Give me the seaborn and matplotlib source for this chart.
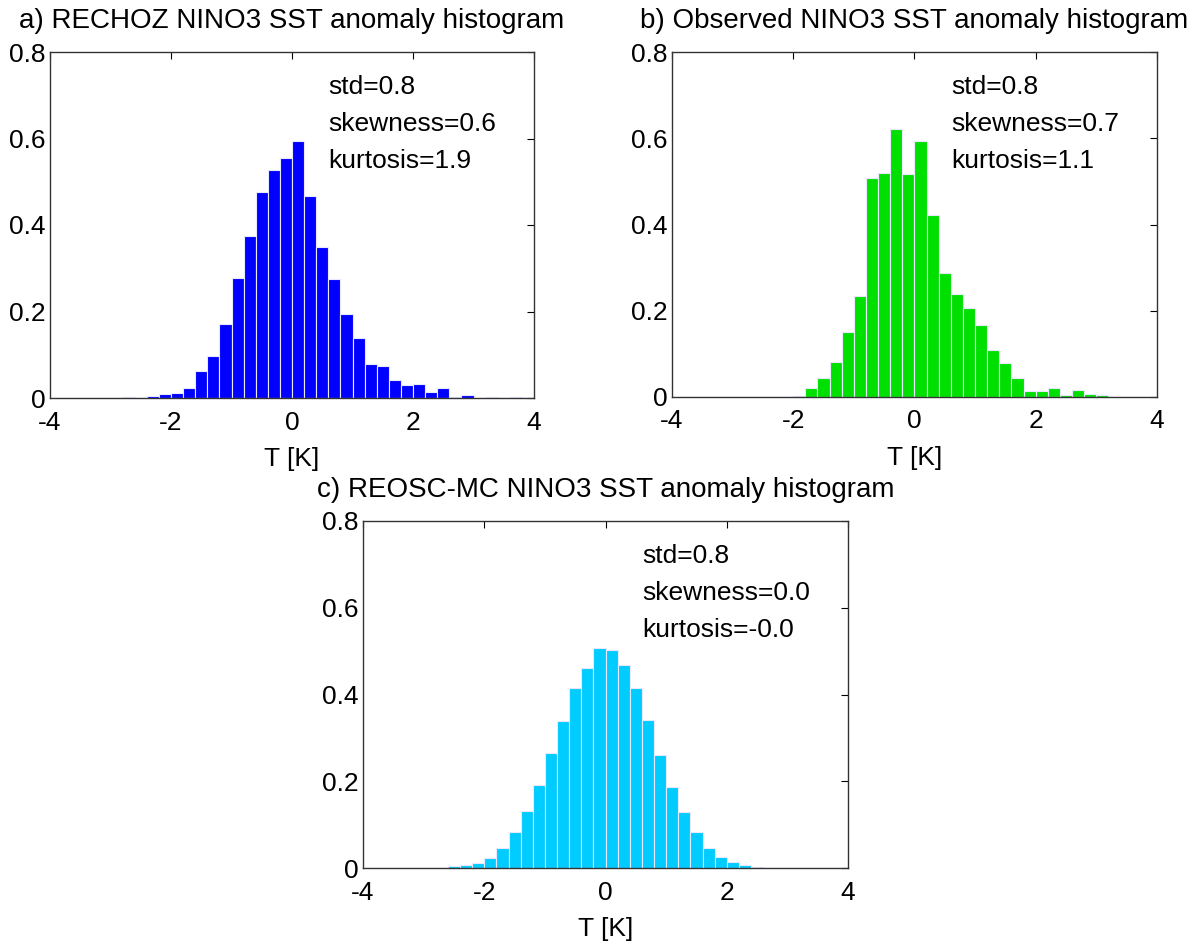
import numpy as np
import pandas as pd
import matplotlib
matplotlib.use("Agg")
import matplotlib.pyplot as plt
import seaborn as sns

# ---------------- data ----------------
a_centers = [-2.7, -2.5, -2.3, -2.1, -1.9, -1.7, -1.5, -1.3, -1.1, -0.9, -0.7, -0.5,
             -0.3, -0.1, 0.1, 0.3, 0.5, 0.7, 0.9, 1.1, 1.3, 1.5, 1.7, 1.9, 2.1, 2.3,
             2.5, 2.7, 2.9, 3.1, 3.3, 3.5, 3.7]
a_values = [0.002, 0.0, 0.005, 0.010, 0.012, 0.023, 0.062, 0.098, 0.170, 0.278, 0.375,
            0.476, 0.528, 0.555, 0.594, 0.468, 0.349, 0.275, 0.195, 0.138, 0.079, 0.075,
            0.041, 0.031, 0.033, 0.015, 0.023, 0.002, 0.008, 0.0, 0.002, 0.0, 0.002]

b_centers = [-1.9, -1.7, -1.5, -1.3, -1.1, -0.9, -0.7, -0.5, -0.3, -0.1, 0.1, 0.3, 0.5,
             0.7, 0.9, 1.1, 1.3, 1.5, 1.7, 1.9, 2.1, 2.3, 2.5, 2.7, 2.9, 3.1]
b_values = [0.002, 0.022, 0.045, 0.081, 0.151, 0.235, 0.508, 0.519, 0.622, 0.516, 0.594,
            0.423, 0.287, 0.238, 0.207, 0.166, 0.109, 0.078, 0.045, 0.015, 0.015, 0.022,
            0.004, 0.017, 0.007, 0.004]

c_centers = [-2.5, -2.3, -2.1, -1.9, -1.7, -1.5, -1.3, -1.1, -0.9, -0.7, -0.5, -0.3, -0.1,
             0.1, 0.3, 0.5, 0.7, 0.9, 1.1, 1.3, 1.5, 1.7, 1.9, 2.1, 2.3, 2.5]
c_values = [0.004, 0.006, 0.011, 0.024, 0.047, 0.083, 0.132, 0.191, 0.265, 0.338, 0.415,
            0.461, 0.508, 0.502, 0.469, 0.415, 0.342, 0.260, 0.186, 0.129, 0.083, 0.047,
            0.026, 0.013, 0.006, 0.003]

titles = ["a) RECHOZ NINO3 SST anomaly histogram",
          "b) Observed NINO3 SST anomaly histogram",
          "c) REOSC-MC NINO3 SST anomaly histogram"]
stats_text = [["std=0.8", "skewness=0.6", "kurtosis=1.9"],
              ["std=0.8", "skewness=0.7", "kurtosis=1.1"],
              ["std=0.8", "skewness=0.0", "kurtosis=-0.0"]]
colors = ["#0000FF", "#00E000", "#00CCFF"]
bin_edges = [-4.0, -3.8, -3.6, -3.4, -3.2, -3.0, -2.8, -2.6, -2.4, -2.2, -2.0, -1.8,
             -1.6, -1.4, -1.2, -1.0, -0.8, -0.6, -0.4, -0.2, 0.0, 0.2, 0.4, 0.6, 0.8,
             1.0, 1.2, 1.4, 1.6, 1.8, 2.0, 2.2, 2.4, 2.6, 2.8, 3.0, 3.2, 3.4, 3.6, 3.8, 4.0]
xticks = [-4, -2, 0, 2, 4]
yticks = [0, 0.2, 0.4, 0.6, 0.8]
ytick_labels = ["0", "0.2", "0.4", "0.6", "0.8"]
xlabel = "T [K]"

# ---------------- style ----------------
sns.set_style("white")
plt.rcParams['font.family'] = ['Liberation Sans', 'DejaVu Sans']
plt.rcParams['text.color'] = 'black'
FS = 19
FT = 20

fig = plt.figure(figsize=(11.92, 9.42), dpi=100)
W, H = 1192.0, 942.0
boxes = [(50, 52, 534, 398), (672, 52, 1157, 397), (363, 521, 848, 868)]
datasets = [(a_centers, a_values), (b_centers, b_values), (c_centers, c_values)]

for i, ((x0, y0, x1, y1), (cen, val)) in enumerate(zip(boxes, datasets)):
    ax = fig.add_axes([x0 / W, 1 - y1 / H, (x1 - x0) / W, (y1 - y0) / H])
    df = pd.DataFrame({"T": cen, "p": val})
    sns.histplot(data=df, x="T", weights="p", bins=bin_edges, stat="count",
                 color=colors[i], alpha=1.0, edgecolor="#e8e8ff", linewidth=0.8,
                 ax=ax)
    ax.set_xlim(-4, 4)
    ax.set_ylim(0, 0.8)
    ax.set_xticks(xticks)
    ax.set_xticklabels([str(t) for t in xticks])
    ax.set_yticks(yticks)
    ax.set_yticklabels(ytick_labels)
    ax.set_ylabel("")
    ax.set_xlabel(xlabel, fontsize=FS, labelpad=9, color="black")
    ax.tick_params(axis="both", direction="in", length=5, width=0.8,
                   top=True, right=True, labelsize=FS, colors="black")
    ax.tick_params(axis="x", pad=9)
    ax.tick_params(axis="y", pad=3)
    for sp in ax.spines.values():
        sp.set_visible(True)
        sp.set_color("#333333")
        sp.set_linewidth(1.0)
    ax.set_title(titles[i], fontsize=FT, pad=17, color="black")
    for j, s in enumerate(stats_text[i]):
        ax.text(0.6, 0.72 - 0.086 * j, s, fontsize=FS, ha="left", va="center",
                color="black")

fig.savefig("out.png", dpi=100)
